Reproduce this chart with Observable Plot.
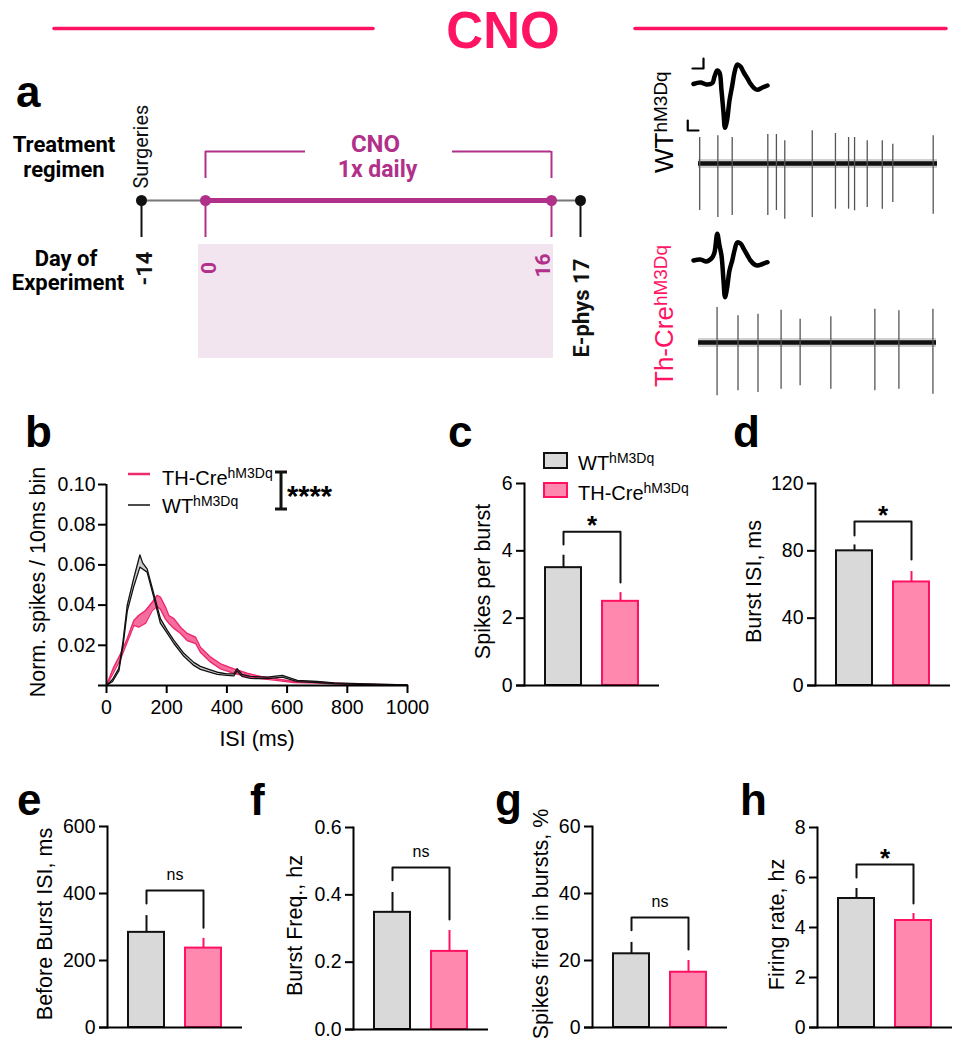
<!DOCTYPE html>
<html><head><meta charset="utf-8">
<script src="https://cdn.jsdelivr.net/npm/d3@7"></script>
<script src="https://cdn.jsdelivr.net/npm/@observablehq/plot@0.6"></script>
<style>
body{margin:0;background:#fff;}
#fig{position:relative;width:964px;height:1050px;overflow:hidden;background:#fff;}
</style></head><body><div id="fig"></div>
<script>
// ---------------- DATA ----------------
const groups = ["WT", "TH-Cre"];

// panel b : ISI distributions (mean ± SEM envelopes)
const isiWT  = [0, 20, 41, 55, 69, 90, 111, 120, 135, 157, 179, 202, 224, 257, 290, 312, 340, 368, 400, 423, 434, 450, 478, 534, 584, 634, 700, 756, 867, 1000];
const wtHi   = [0, .003, .0085, .022, .040, .053, .065, .061, .058, .0457, .0333, .0274, .0224, .016, .0115, .0095, .008, .0066, .0058, .0058, .0084, .0055, .0045, .0042, .005, .0025, .002, .0013, .0008, .0003];
const wtLo   = [0, .002, .0072, .020, .037, .049, .0589, .058, .0564, .044, .031, .0259, .0209, .0145, .0100, .0080, .0068, .0055, .0050, .0048, .0072, .0046, .0035, .0034, .0042, .0019, .0015, .0009, .0005, .0001];
const isiTH  = [0, 24, 47, 69, 91, 107, 130, 152, 168, 179, 196, 207, 224, 246, 268, 296, 312, 346, 379, 423, 467, 512, 556, 622, 700, 811, 1000];
const thHi   = [0, .0091, .0158, .0233, .0324, .0348, .0373, .0414, .0448, .044, .039, .0348, .0333, .029, .0259, .024, .019, .0141, .0108, .0083, .0061, .0045, .0035, .002, .0017, .0008, .0003];
const thLo   = [0, .0066, .0133, .0216, .0299, .029, .031, .0373, .0393, .038, .033, .031, .0284, .0259, .0224, .0209, .0166, .0116, .0083, .0061, .0045, .0035, .0027, .0015, .0012, .0005, .0001];
const isiTicks = [0, 200, 400, 600, 800, 1000];
const normTicks = [0.02, 0.04, 0.06, 0.08, 0.10];

// bar panels c–h : [WT, TH-Cre]
const spikesPerBurst = [3.5, 2.5],    spikesPerBurstSem = [0.37, 0.26];
const burstISI = [80, 61.5],          burstISISem = [3.5, 6.2];
const beforeBurstISI = [284, 237],    beforeBurstISISem = [50, 29];
const burstFreq = [0.348, 0.232],     burstFreqSem = [0.059, 0.062];
const spikesInBursts = [22.0, 16.5],  spikesInBurstsSem = [3.4, 3.5];
const firingRate = [5.16, 4.28],      firingRateSem = [0.40, 0.28];
// significance brackets: [left foot, top, right foot]
const bracketC = [4.19, 4.57, 3.06];
const bracketD = [89.1, 97.4, 74.9];
const bracketE = [370, 409, 298];
const bracketF = [0.443, 0.481, 0.327];
const bracketG = [29, 32.8, 23.3];
const bracketH = [6.0, 6.52, 4.96];
const sigLabels = ["*", "*", "ns", "ns", "ns", "*"];
const ticksC = [0, 2, 4, 6], ticksD = [0, 40, 80, 120], ticksE = [0, 200, 400, 600];
const ticksF = [0, 0.2, 0.4, 0.6], ticksG = [0, 20, 40, 60], ticksH = [0, 2, 4, 6, 8];

// panel a : timeline (days)
const milestoneDays = [-14, 0, 16, 17];
const cnoPeriod = {start: 0, end: 16};

// traces (seconds) – spike times and amplitudes (up / down)
const wtSpikeT    = [0.05, 0.81, 1.41, 2.90, 3.26, 3.61, 4.76, 5.73, 6.28, 6.53, 7.06, 7.69, 8.13, 9.82];
const wtSpikeUp   = [26, 27.7, 26, 29, 29, 22.7, 32.7, 30, 26, 26, 22.7, 22.7, 19.3, 27.7];
const wtSpikeDown = [47, 54, 52, 52, 47, 55.7, 54, 45.7, 45.7, 47.3, 44, 45.7, 39, 50.7];
const thSpikeT    = [0.78, 1.66, 2.50, 3.47, 4.27, 5.56, 7.41, 8.42, 9.85];
const thSpikeUp   = [35, 26.7, 28.3, 32.3, 23.3, 25.7, 33.3, 31.7, 33.3];
const thSpikeDown = [53.3, 48.3, 50, 46.7, 43.3, 46.7, 48.3, 46.7, 51.7];
// average waveforms (ms, amplitude)
const waveT  = [0, 0.28, 0.52, 0.75, 0.84, 0.95, 1.04, 1.12, 1.2, 1.26, 1.34, 1.44, 1.55, 1.64, 1.75, 1.88, 2.01, 2.16, 2.28, 2.44, 2.56, 2.76, 2.96];
const waveWT = [0, 1.5, -0.5, 0.8, 7.5, 13.5, 11.5, -6.5, -28.5, -43.8, -36.5, -16.5, -1.5, 11.5, 19.5, 17.5, 11.5, 5.5, 0.2, -4.5, -5.8, -3.5, -1.5];
const waveTH = [0, 1, -1, 3, 8, 26.7, 15, 5, -20, -36.7, -28, -10, 0, 10, 18, 17, 11.7, 5, 0, -4, -5, -3.5, -1.7];

// ---------------- STYLE ----------------
const W = 964, H = 1050;
const ARIAL = "'Liberation Sans', Arial, Helvetica, sans-serif";
const ROBOTO = "Roboto, 'Liberation Sans', sans-serif";
const PINK = "#ff1464", MAG = "#b0308a", BOXPINK = "#f3e5f0";
const TICKFS = 19.5, LABELFS = 21.5;
const barFill = {"WT": "#d9d9d9", "TH-Cre": "#ff89ae"};
const barStroke = {"WT": "#111111", "TH-Cre": "#ff1262"};
const fig = document.getElementById("fig");
const baseStyle = {position: "absolute", left: "0px", top: "0px", background: "transparent", overflow: "visible",
  maxWidth: "none", fontFamily: ARIAL, fontSize: TICKFS + "px", color: "#000", pointerEvents: "none"};
function layer(opts) { fig.appendChild(Plot.plot({width: W, height: H, style: baseStyle, ...opts})); }
function frame(l, r, t, b) { return {marginLeft: l, marginRight: W - r, marginTop: t, marginBottom: H - b}; }

// ---------------- PANEL a : timeline ----------------
const lane = {bracket: 0, bracketFoot: 27, line: 49, tickFoot: 86, boxTop: 93, boxBottom: 207};
const ms = milestoneDays.map(d => ({day: d, c: (d === cnoPeriod.start || d === cnoPeriod.end) ? MAG : "#111"}));
const mid = (cnoPeriod.start + cnoPeriod.end) / 2;
layer({
  marginTop: 151, marginBottom: H - 358,
  x: {type: "linear", domain: milestoneDays, range: [141, 205, 551, 580], axis: null},
  y: {domain: [0, 207], reverse: true, axis: null},
  color: {type: "identity"},
  marks: [
    Plot.rect([cnoPeriod], {x1: "start", x2: "end", y1: lane.boxTop, y2: lane.boxBottom, fill: BOXPINK, insetLeft: -7, insetRight: -2}),
    Plot.ruleY([lane.line], {x1: milestoneDays[0], x2: milestoneDays[3], stroke: "#777", strokeWidth: 2}),
    Plot.ruleY([lane.line], {x1: cnoPeriod.start, x2: cnoPeriod.end, stroke: MAG, strokeWidth: 5}),
    Plot.ruleX(ms, {x: "day", y1: lane.line, y2: lane.tickFoot, stroke: "c", strokeWidth: 2}),
    Plot.dot(ms, {x: "day", y: lane.line, r: 5.5, fill: "c", stroke: "none"}),
    Plot.ruleX([cnoPeriod.start, cnoPeriod.end], {y1: lane.bracket, y2: lane.bracketFoot, stroke: MAG, strokeWidth: 2}),
    Plot.ruleY([lane.bracket], {x1: cnoPeriod.start, x2: mid, insetRight: 73, stroke: MAG, strokeWidth: 2}),
    Plot.ruleY([lane.bracket], {x1: mid, x2: cnoPeriod.end, insetLeft: 74, stroke: MAG, strokeWidth: 2}),
    Plot.text(["CNO"], {x: mid, dx: -3, y: -7.5, fill: MAG, fontWeight: "bold", fontSize: 24, fontFamily: ROBOTO}),
    Plot.text(["1x daily"], {x: mid, dx: -1, y: 18.5, fill: MAG, fontWeight: "bold", fontSize: 23, fontFamily: ROBOTO}),
    Plot.text(["Surgeries"], {x: milestoneDays[0], y: 37, rotate: -90, textAnchor: "start", fontSize: 20, fontFamily: ROBOTO, fill: "#111"}),
    Plot.text([String(milestoneDays[0])], {x: milestoneDays[0], dx: 3, y: 134, rotate: -90, textAnchor: "start", fontWeight: "bold", fontSize: 22, fontFamily: ROBOTO, fill: "#111"}),
    Plot.text([String(cnoPeriod.start)], {x: cnoPeriod.start, dx: 4, y: 116.5, rotate: -90, fontWeight: "bold", fontSize: 21, fontFamily: ROBOTO, fill: MAG}),
    Plot.text([String(cnoPeriod.end)], {x: cnoPeriod.end, dx: -8, y: 114, rotate: -90, fontWeight: "bold", fontSize: 21, fontFamily: ROBOTO, fill: MAG}),
    Plot.text(["E-phys " + milestoneDays[3]], {x: milestoneDays[3], dx: 1, y: 206, rotate: -90, textAnchor: "start", fontWeight: "bold", fontSize: 22, fontFamily: ROBOTO, fill: "#111"})
  ]
});

// ---------------- traces ----------------
function trace(T, U, D, left, right, base) {
  const rows = T.map((t, i) => ({t, up: U[i], down: -D[i]}));
  layer({
    ...frame(left, right, base - 60, base + 60),
    x: {domain: [0, 10], axis: null},
    y: {domain: [-60, 60], axis: null},
    marks: [
      Plot.ruleY([0], {stroke: "#777", strokeWidth: 9, strokeOpacity: 0.35}),
      Plot.ruleY([0], {stroke: "#111", strokeWidth: 4.5}),
      Plot.ruleX(rows, {x: "t", y1: "down", y2: "up", stroke: "#555", strokeWidth: 1.3})
    ]
  });
}
trace(wtSpikeT, wtSpikeUp, wtSpikeDown, 698, 937, 163);
trace(thSpikeT, thSpikeUp, thSpikeDown, 698, 936, 342);

function waveform(V, base, bars) {
  const rows = waveT.map((t, i) => ({t, v: V[i]}));
  layer({
    ...frame(693, 768, base - 50, base + 50),
    x: {domain: [0, 3], axis: null},
    y: {domain: [-50, 50], axis: null},
    marks: [
      Plot.line(rows, {x: "t", y: "v", stroke: "#000", strokeWidth: 4.5, strokeLinejoin: "round", curve: "catmull-rom"}),
      ...bars.map(b => Plot.line(b, {x: "t", y: "v", stroke: "#000", strokeWidth: 2.2}))
    ]
  });
}
waveform(waveWT, 83.5, [
  [{t: -0.04, v: 15.5}, {t: 0.4, v: 15.5}, {t: 0.4, v: 25.5}],
  [{t: -0.23, v: -36.5}, {t: -0.23, v: -46.5}, {t: 0.2, v: -46.5}]
]);
waveform(waveTH, 260, []);

// ---------------- PANEL b ----------------
const wtRows = isiWT.map((x, i) => ({x, lo: wtLo[i], hi: wtHi[i]}));
const thRows = isiTH.map((x, i) => ({x, lo: thLo[i], hi: thHi[i]}));
layer({
  ...frame(106, 407, 484, 685),
  x: {domain: [0, 1000], axis: null},
  y: {domain: [0, 0.10], axis: null},
  marks: [
    Plot.areaY(wtRows, {x: "x", y1: "lo", y2: "hi", fill: "#cccccc"}),
    Plot.areaY(thRows, {x: "x", y1: "lo", y2: "hi", fill: "#f56d9e"}),
    Plot.line(thRows, {x: "x", y: "lo", stroke: "#ee2a6f", strokeWidth: 1.4}),
    Plot.line(thRows, {x: "x", y: "hi", stroke: "#ee2a6f", strokeWidth: 1.4}),
    Plot.line(wtRows, {x: "x", y: "lo", stroke: "#111", strokeWidth: 1.3}),
    Plot.line(wtRows, {x: "x", y: "hi", stroke: "#111", strokeWidth: 1.3}),
    Plot.ruleX([0], {y1: 0, y2: 0.10, strokeWidth: 2}),
    Plot.ruleY([0], {insetLeft: -8, strokeWidth: 2}),
    Plot.axisX({ticks: isiTicks, tickFormat: "d", tickSize: 8, tickPadding: 7, strokeWidth: 2, label: null, fontSize: TICKFS}),
    Plot.axisY({ticks: normTicks, tickFormat: ".2f", tickSize: 8, tickPadding: 3, strokeWidth: 2, label: null, fontSize: TICKFS}),
    Plot.text(["Norm. spikes / 10ms bin"], {frameAnchor: "left", textAnchor: "middle", lineAnchor: "middle", rotate: -90, dx: -68, dy: -3, fontSize: LABELFS}),
    Plot.text(["ISI (ms)"], {frameAnchor: "bottom", lineAnchor: "middle", dy: 54, fontSize: LABELFS})
  ]
});

// ---------------- bar panels ----------------
function barPanel(p) {
  const rows = groups.map((g, i) => ({g, m: p.mean[i], s: p.sem[i]}));
  const br = [{g: groups[0], v: p.bracket[0]}, {g: groups[0], v: p.bracket[1]}, {g: groups[1], v: p.bracket[1]}, {g: groups[1], v: p.bracket[2]}];
  const isStar = p.sig !== "ns";
  layer({
    ...frame(p.ax, p.ax + 135, p.yt, p.y0),
    x: {type: "band", domain: groups, padding: 0.36, axis: null},
    y: {domain: [0, p.ticks[p.ticks.length - 1]], axis: null},
    color: {type: "identity"},
    marks: [
      Plot.ruleX(rows, {x: "g", y1: "m", y2: d => d.m + d.s, stroke: d => barStroke[d.g], strokeWidth: 2}),
      Plot.barY(rows, {x: "g", y: "m", fill: d => barFill[d.g], stroke: d => barStroke[d.g], strokeWidth: 2}),
      Plot.line(br, {x: "g", y: "v", stroke: "#111", strokeWidth: 2}),
      Plot.text([{label: p.sig, v: p.bracket[1]}], {y: "v", text: "label", dy: isStar ? -6 : -16,
        fontSize: isStar ? 26 : 16, fontWeight: isStar ? "bold" : "normal"}),
      Plot.frame({anchor: "left", strokeWidth: 2}),
      Plot.ruleY([0], {insetLeft: -8, strokeWidth: 2}),
      Plot.axisY({ticks: p.ticks, tickFormat: p.fmt, tickSize: 8, tickPadding: 4, strokeWidth: 2, label: null, fontSize: TICKFS}),
      Plot.text([p.label], {frameAnchor: "left", textAnchor: "middle", lineAnchor: "middle", rotate: -90, dx: p.lx - p.ax, dy: -3, fontSize: LABELFS})
    ]
  });
}
barPanel({ax: 524, y0: 685, yt: 483, ticks: ticksC, fmt: "d", mean: spikesPerBurst, sem: spikesPerBurstSem, bracket: bracketC, sig: sigLabels[0], label: "Spikes per burst", lx: 483});
barPanel({ax: 815, y0: 685, yt: 483, ticks: ticksD, fmt: "d", mean: burstISI, sem: burstISISem, bracket: bracketD, sig: sigLabels[1], label: "Burst ISI, ms", lx: 754});
barPanel({ax: 107, y0: 1027, yt: 826, ticks: ticksE, fmt: "d", mean: beforeBurstISI, sem: beforeBurstISISem, bracket: bracketE, sig: sigLabels[2], label: "Before Burst ISI, ms", lx: 45});
barPanel({ax: 353, y0: 1029, yt: 827, ticks: ticksF, fmt: ".1f", mean: burstFreq, sem: burstFreqSem, bracket: bracketF, sig: sigLabels[3], label: "Burst Freq., hz", lx: 295});
barPanel({ax: 592, y0: 1027, yt: 826, ticks: ticksG, fmt: "d", mean: spikesInBursts, sem: spikesInBurstsSem, bracket: bracketG, sig: sigLabels[4], label: "Spikes fired in bursts, %", lx: 541});
barPanel({ax: 817, y0: 1027, yt: 827, ticks: ticksH, fmt: "d", mean: firingRate, sem: firingRateSem, bracket: bracketH, sig: sigLabels[5], label: "Firing rate, hz", lx: 777});

// ---------------- text overlay ----------------
const ov = d3.create("svg").attr("width", W).attr("height", H)
  .style("position", "absolute").style("left", "0px").style("top", "0px").style("overflow", "visible")
  .attr("font-family", ARIAL);
function txt(x, y, s, o = {}) {
  const t = ov.append("text").attr("x", x).attr("y", y).text(s)
    .attr("font-size", o.size || 18).attr("font-weight", o.weight || "normal")
    .attr("fill", o.fill || "#000").attr("text-anchor", o.anchor || "start");
  if (o.family) t.attr("font-family", o.family);
  return t;
}
function supTxt(x, y, main, sup, o) {
  const t = txt(x, y, main, o);
  t.append("tspan").attr("dy", o.dy).attr("font-size", o.supSize).text(sup);
  return t;
}
// header
ov.append("line").attr("x1", 54).attr("x2", 373).attr("y1", 28.5).attr("y2", 28.5).attr("stroke", PINK).attr("stroke-width", 3.5).attr("stroke-linecap", "round");
ov.append("line").attr("x1", 635).attr("x2", 946).attr("y1", 28.5).attr("y2", 28.5).attr("stroke", PINK).attr("stroke-width", 3.5).attr("stroke-linecap", "round");
txt(503, 48, "CNO", {size: 51, weight: "bold", fill: PINK, anchor: "middle"});
// panel letters
[["a", 16, 107], ["b", 25, 447], ["c", 448, 447], ["d", 733, 447], ["e", 17, 815], ["f", 250, 815], ["g", 495, 815], ["h", 740, 815]]
  .forEach(([l, x, y]) => txt(x, y, l, {size: 44, weight: "bold"}));
// panel a row labels
txt(64, 152, "Treatment", {size: 22, weight: "bold", anchor: "middle", family: ROBOTO});
txt(64, 177, "regimen", {size: 22, weight: "bold", anchor: "middle", family: ROBOTO});
txt(66, 266, "Day of", {size: 22, weight: "bold", anchor: "middle", family: ROBOTO});
txt(68, 290, "Experiment", {size: 22, weight: "bold", anchor: "middle", family: ROBOTO});
// trace labels
supTxt(0, 0, "WT", "hM3Dq", {size: 26, supSize: 19, dy: -6}).attr("transform", "translate(673,173) rotate(-90)");
supTxt(0, 0, "Th-Cre", "hM3Dq", {size: 26, supSize: 19, dy: -6, fill: PINK}).attr("transform", "translate(673,387) rotate(-90)");
// panel b legend
ov.append("line").attr("x1", 128).attr("x2", 150).attr("y1", 474).attr("y2", 474).attr("stroke", "#ee2a6f").attr("stroke-width", 2.5);
ov.append("line").attr("x1", 128).attr("x2", 150).attr("y1", 505).attr("y2", 505).attr("stroke", "#111").attr("stroke-width", 1.5);
supTxt(162, 485, "TH-Cre", "hM3Dq", {size: 20, supSize: 14, dy: -7});
supTxt(162, 513, "WT", "hM3Dq", {size: 20, supSize: 14, dy: -7});
ov.append("path").attr("d", "M275,472H287M281,472V509M275,509H287").attr("stroke", "#111").attr("stroke-width", 3).attr("fill", "none");
txt(287, 506, "****", {size: 29, weight: "bold"});
// panel c legend
ov.append("rect").attr("x", 544).attr("y", 453).attr("width", 23).attr("height", 15).attr("fill", barFill["WT"]).attr("stroke", barStroke["WT"]).attr("stroke-width", 2);
ov.append("rect").attr("x", 544).attr("y", 483).attr("width", 23).attr("height", 14).attr("fill", barFill["TH-Cre"]).attr("stroke", barStroke["TH-Cre"]).attr("stroke-width", 2);
supTxt(578, 470, "WT", "hM3Dq", {size: 20, supSize: 14, dy: -7});
supTxt(578, 500, "TH-Cre", "hM3Dq", {size: 20, supSize: 14, dy: -7});
fig.appendChild(ov.node());
</script></body></html>
